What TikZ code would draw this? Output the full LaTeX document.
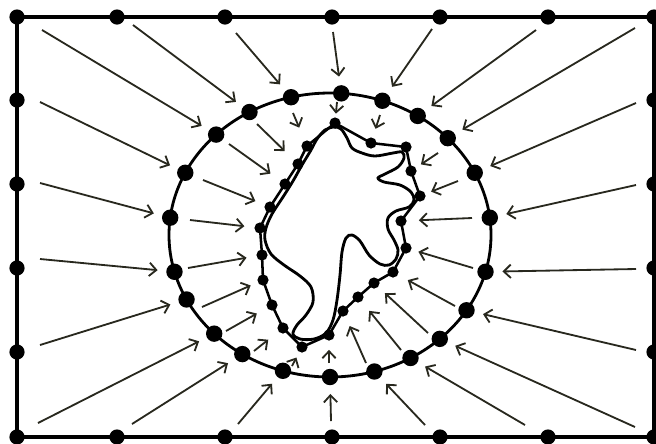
\documentclass[tikz,border=0pt]{standalone}
\usetikzlibrary{arrows.meta, calc}
\definecolor{arrowdark}{RGB}{40,40,30}

\begin{document}
\begin{tikzpicture}[x=0.025cm, y=-0.025cm,
  frame/.style={line width=2.8pt},
  bdot/.style={circle, fill=black, inner sep=0pt, minimum size=0.38cm},
  edot/.style={circle, fill=black, inner sep=0pt, minimum size=0.41cm},
  pdot/.style={circle, fill=black, inner sep=0pt, minimum size=0.28cm},
  arr/.style={-{Straight Barb[length=5pt, width=9.5pt]}, line width=1.3pt, draw=arrowdark},
]
\useasboundingbox (0,0) rectangle (656,443);

% outer frame and its points
\draw[frame] (17,17) rectangle (654,437);
\foreach \x [count=\i] in {17,117,225,332,440,548,654} {
  \node[bdot] (top\i) at (\x,17) {};
  \node[bdot] (bot\i) at (\x,437) {};
}
\foreach \y [count=\i] in {100,184,268,352} {
  \node[bdot] (left\i) at (17,\y) {};
  \node[bdot] (right\i) at (654,\y) {};
}

% ellipse and its points
\coordinate (c) at (330,235);
\draw[line width=2pt] (c) ellipse [x radius=161, y radius=142];
\foreach \a [count=\i] in {7,26,43,57,71,86,104,120,135,154,173,195,207,224,237,253,270,286,300,313,328,345}
  \node[edot] (e\i) at ($(c)+(-\a:161 and 142)$) {};

% outer arrows
\foreach \x/\y [count=\i] in {636/185, 636/103, 635/28, 536/30, 432/29, 333/32, 236/33, 133/25, 42/30, 40/102, 40/183,
    40/259, 40/345, 38/423, 132/424, 238/424, 331/421, 425/425, 525/425, 635/427, 636/350, 636/269} {
  \coordinate (o\i) at (\x,\y);
  \draw[arr, shorten >=6pt] (o\i) -- (e\i);
}

% inner polygon
\foreach \x/\y [count=\i] in {335/123, 371/143, 406/147, 411/171, 420/196, 401/221, 406/248, 393/272, 374/283, 358/297, 343/311,
    329/335, 302/347, 283/328, 272/305, 263/280, 262/255, 260/228, 270/207, 285/184, 298/164, 307/146}
  \node[pdot] (p\i) at (\x,\y) {};
\draw[line width=1.8pt, line join=round] (p1.center) \foreach \i in {2,...,22} {-- (p\i.center)} -- cycle;

% the region
\draw[line width=2pt] plot[smooth cycle, tension=0.55] coordinates {
  (334,127) (341,129) (347,138) (352,148) (362,153) (375,156) (393,153) (402,152) (404,158) (398,167) (385,174) (378,178)
  (384,182) (400,185) (411,192) (414,200) (409,207) (396,211) (388,218) (388,229) (394,240) (398,250) (396,259) (389,265)
  (380,264) (369,255) (360,241) (352,235) (346,238) (342,252) (340,275) (337,300) (333,320) (326,333) (314,339) (300,339)
  (293,334) (297,325) (306,315) (313,302) (311,287) (300,276) (284,265) (271,254) (265,240) (266,228) (272,214) (283,197)
  (293,181) (302,165) (311,150) (317,139) (325,130)};

% inner arrows
\foreach \e/\p/\x/\y/\g in {1/6/472/218/8.5, 2/5/458/181/4.3, 3/4/438/153/4.3, 5/2/380/115/6.4, 6/1/337/102/2.5,
    7/22/293/113/10, 8/21/257/124/9, 9/20/229/144/8.5, 10/19/203/180/7, 11/18/190/220/7, 12/17/188/268/7,
    13/16/202/307/5.4, 14/15/226/331/8.2, 15/14/254/351/9.2, 16/13/292/366/4.3, 17/12/329/363/6.4,
    18/11/366/363/7.5, 19/10/401/350/8.5, 20/9/428/333/6.4, 21/8/455/306/7.8, 22/7/473/268/5} {
  \coordinate (s\e) at (\x,\y);
  \draw[arr, shorten >=\g pt] (s\e) -- (p\p);
}
\end{tikzpicture}
\end{document}
